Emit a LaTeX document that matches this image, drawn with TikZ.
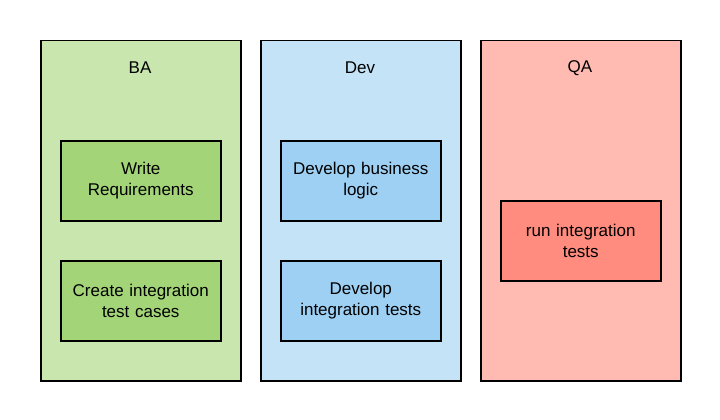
\documentclass[tikz,border=0pt]{standalone}
\usepackage{fontspec}
\setmainfont{Liberation Sans}
\definecolor{baout}{HTML}{C8E6AE}
\definecolor{bain}{HTML}{A3D578}
\definecolor{devout}{HTML}{C4E3F6}
\definecolor{devin}{HTML}{9DD0F3}
\definecolor{qaout}{HTML}{FFBAB1}
\definecolor{qain}{HTML}{FF8C7E}
\begin{document}
\begin{tikzpicture}[x=1pt,y=-1pt,
  lane/.style={draw=black,line width=1.5pt,minimum width=200pt,minimum height=340pt,anchor=north west,inner sep=0pt},
  task/.style={draw=black,line width=1.5pt,minimum width=160pt,minimum height=80pt,anchor=north west,align=center,text width=156pt,inner sep=0pt,font=\fontsize{17}{21.6}\selectfont},
  title/.style={font=\fontsize{17}{20}\selectfont}]
\useasboundingbox (0,0) rectangle (720,420);
\node[lane,fill=baout] (ba) at (40,40) {};
\node[lane,fill=devout] (dev) at (260,40) {};
\node[lane,fill=qaout] (qa) at (480,40) {};
\node[title] (bat) at (140,68) {BA};
\node[title] (devt) at (360,68) {Dev};
\node[title] (qat) at (580,68) {QA};
\node[task,fill=bain] (wr) at (60,140) {Write\\Requirements};
\node[task,fill=bain] (cit) at (60,260) {Create integration\\test cases};
\node[task,fill=devin] (dbl) at (280,140) {Develop business\\logic};
\node[task,fill=devin] (dit) at (280,260) {Develop\\integration tests};
\node[task,fill=qain] (rit) at (500,200) {run integration\\tests};
\end{tikzpicture}
\end{document}
